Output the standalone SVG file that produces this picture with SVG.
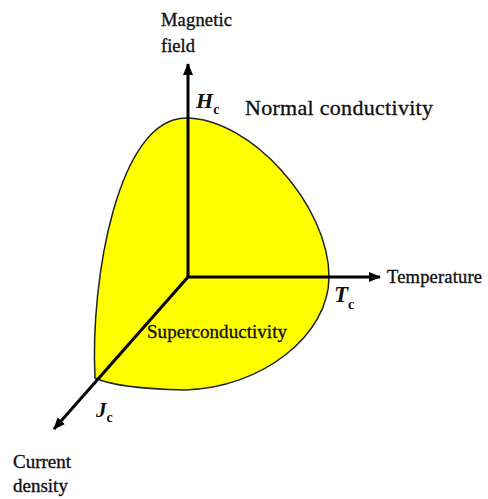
<svg xmlns="http://www.w3.org/2000/svg" width="488" height="499" viewBox="0 0 488 499">
<style>
.lbl{font-family:"Liberation Serif","Times New Roman",serif;fill:#111;stroke:#111;stroke-width:0.35;}
.sym{font-family:"Liberation Serif","Times New Roman",serif;font-style:italic;font-weight:bold;fill:#111;}
.axis{stroke:#000;stroke-width:3;fill:none;}
</style>
<defs>
<marker id="arr" viewBox="0 0 12 10" refX="11" refY="5" markerWidth="4" markerHeight="3.4" orient="auto" markerUnits="strokeWidth">
<path d="M0,0 L12,5 L0,10 Z" fill="#000"/>
</marker>
</defs>
<rect width="488" height="499" fill="#fff"/>
<g id="region">
<path d="M186,118 C250,118 329,205 329,277 C329,335 262,388 185,390 C140,389 110,385 95,378 C90,280 118,118 186,118 Z" fill="#ffff00" stroke="#222" stroke-width="1.5"/>
</g>
<g id="connectors">
<line class="axis" x1="188" y1="277" x2="188" y2="64" marker-end="url(#arr)"/>
<line class="axis" x1="188" y1="277" x2="380" y2="277" marker-end="url(#arr)"/>
<line class="axis" x1="188" y1="277" x2="54" y2="429" marker-end="url(#arr)"/>
</g>
<g id="labels">
<text class="lbl" x="161" y="26" font-size="18.5" textLength="71">Magnetic</text>
<text class="lbl" x="161" y="52" font-size="18.5">field</text>
<text class="lbl" x="245" y="115" font-size="22" textLength="188">Normal conductivity</text>
<text class="lbl" x="387" y="283" font-size="18.5" textLength="95">Temperature</text>
<text class="lbl" x="147" y="338" font-size="19" textLength="140">Superconductivity</text>
<text class="lbl" x="13" y="468" font-size="19">Current</text>
<text class="lbl" x="13" y="492" font-size="19">density</text>
</g>
<g id="symbols">
<text class="sym" x="196" y="108" font-size="22">H<tspan font-size="14" dy="6" font-style="normal">c</tspan></text>
<text class="sym" x="334" y="302" font-size="23">T<tspan font-size="14" dy="7" font-style="normal">c</tspan></text>
<text class="sym" x="96" y="417" font-size="21">J<tspan font-size="14" dy="5" font-style="normal">c</tspan></text>
</g>
</svg>
